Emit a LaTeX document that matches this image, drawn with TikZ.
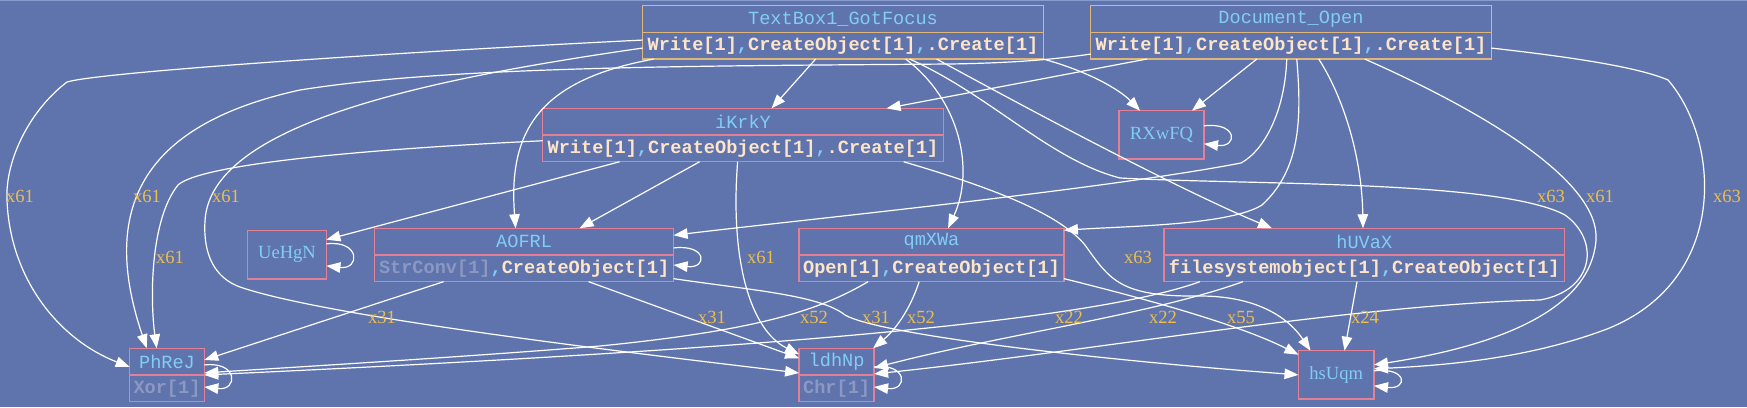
\documentclass[tikz,border=0pt]{standalone}
\usepackage{fontspec}
\setmainfont{Liberation Serif}
\newfontfamily\codefont{Liberation Mono}
\usetikzlibrary{arrows.meta,calc,positioning}

\definecolor{bgblue}{RGB}{95,116,173}
\definecolor{edgetop}{RGB}{135,155,205}
\definecolor{namecol}{RGB}{130,205,245}
\definecolor{callcol}{RGB}{255,228,200}
\definecolor{dimcol}{RGB}{140,152,195}
\definecolor{countcol}{RGB}{238,190,75}
\definecolor{entryline}{RGB}{224,182,120}
\definecolor{funcline}{RGB}{228,128,150}

\newcommand{\csep}{\textcolor{namecol}{,}}

\tikzset{
  func/.style={draw=funcline, line width=1.3pt, inner sep=0pt, outer sep=0pt,
    text=namecol, font=\fontsize{18.6}{22}\selectfont, minimum height=48.3pt},
  fname/.style={func, font=\codefont\fontsize{18.6}{22}\selectfont, minimum height=26.7pt},
  fcalls/.style={fname, font=\codefont\bfseries\fontsize{18.6}{22}\selectfont, text=callcol},
  entry/.style={fname, draw=entryline},
  entrycalls/.style={fcalls, draw=entryline},
  call/.style={draw=white, line width=1.2pt, -{Triangle[length=14pt,width=10.5pt]}},
  count/.style={text=countcol, font=\fontsize{18.6}{22}\selectfont, inner sep=0pt},
}

\begin{document}
\begin{tikzpicture}[x=1pt,y=-1pt]
\useasboundingbox (0,0) rectangle (1747,407);
\fill[bgblue] (0,0) rectangle (1747,407);
\draw[edgetop, line width=1pt] (0,0.5) -- (1747,0.5);

\node[entry, minimum width=400.7pt] (tbt) at (843,19) {TextBox1\_GotFocus};
\node[entrycalls, minimum width=400.7pt, below=0pt of tbt] (tbb) {Write[1]\csep CreateObject[1]\csep.Create[1]};

\node[entry, minimum width=400.5pt] (dot) at (1291,19) {Document\_Open};
\node[entrycalls, minimum width=400.5pt, below=0pt of dot] (dob) {Write[1]\csep CreateObject[1]\csep.Create[1]};

\node[fname, minimum width=400.8pt] (ikt) at (743,121.7) {iKrkY};
\node[fcalls, minimum width=400.8pt, below=0pt of ikt] (ikb) {Write[1]\csep CreateObject[1]\csep.Create[1]};

\node[func, minimum width=85pt] (rx) at (1161.5,134.85) {RXwFQ};
\node[func, minimum width=78.8pt] (ue) at (287,254.85) {UeHgN};

\node[fname, minimum width=299pt] (aot) at (524.1,241.6) {AOFRL};
\node[fcalls, minimum width=299pt, below=0pt of aot] (aob) {\textcolor{dimcol}{StrConv[1]}\csep CreateObject[1]};

\node[fname, minimum width=264.8pt] (qmt) at (931.5,241.6) {qmXWa};
\node[fcalls, minimum width=264.8pt, below=0pt of qmt] (qmb) {Open[1]\csep CreateObject[1]};

\node[fname, minimum width=400.6pt] (hut) at (1364.3,241.6) {hUVaX};
\node[fcalls, minimum width=400.6pt, below=0pt of hut] (hub) {filesystemobject[1]\csep CreateObject[1]};

\node[fname, minimum width=74.6pt] (pht) at (167,361.6) {PhReJ};
\node[fcalls, text=dimcol, minimum width=74.6pt, below=0pt of pht] (phb) {Xor[1]};

\node[fname, minimum width=75pt] (ldt) at (836.6,361.6) {ldhNp};
\node[fcalls, text=dimcol, minimum width=75pt, below=0pt of ldt] (ldb) {Chr[1]};

\node[func, minimum width=75.5pt] (hs) at (1336.25,374.85) {hsUqm};

\draw[call] ($(tbb.south west)+(173,0)$) -- ($(ikt.north west)+(229,0)$);
\draw[call] (tbb.south east) .. controls (1090,72) and (1120,90) .. ($(rx.north west)+(21,0)$);
\draw[call] ($(tbb.south west)+(11,0)$) .. controls (540,80) and (508,130) .. ($(aot.north west)+(141,0)$);
\draw[call] ($(tbb.south west)+(263,0)$) .. controls (960,100) and (975,170) .. ($(qmt.north west)+(149,0)$);
\draw[call] ($(tbb.south west)+(294,0)$) .. controls (1030,110) and (1180,190) .. ($(hut.north west)+(108,0)$);
\draw[call] ($(tbb.south west)+(0,-19)$) .. controls (400,52) and (100,72) .. (67,82)
  .. controls (30,110) and (5,160) .. (7,200) .. controls (10,280) and (60,340) .. ($(pht.south west)+(0,-8)$);
\draw[call] ($(tbb.south west)+(0,-11)$) .. controls (420,80) and (210,125) .. (205,221)
  .. controls (203,255) and (215,278) .. (240,287) .. controls (330,318) and (650,355) .. ($(ldt.south west)+(0,-2)$);
\draw[call] ($(tbb.south west)+(267,0)$) .. controls (990,95) and (1050,160) .. (1120,178)
  .. controls (1250,185) and (1500,180) .. (1565,215) .. controls (1600,240) and (1595,290) .. (1540,300)
  .. controls (1350,305) and (1100,350) .. ($(ldt.south east)+(0,-1)$);

\draw[call] ($(dob.south west)+(56,0)$) -- ($(ikt.north west)+(344,0)$);
\draw[call] ($(dob.south west)+(166,0)$) -- ($(rx.north west)+(73,0)$);
\draw[call] ($(dob.south west)+(196,0)$) .. controls (1285,110) and (1265,150) .. (1241,163)
  .. controls (1100,190) and (800,220) .. ($(aot.north east)+(0,7)$);
\draw[call] ($(dob.south west)+(206,0)$) .. controls (1302,120) and (1300,170) .. (1262,205)
  .. controls (1230,225) and (1130,226) .. ($(qmt.north east)+(0,2)$);
\draw[call] ($(dob.south west)+(228,0)$) .. controls (1345,100) and (1362,160) .. ($(hut.north west)+(199,0)$);
\draw[call] ($(dob.south west)+(0,-5)$) .. controls (1050,60) and (1010,63) .. (950,64)
  .. controls (700,66) and (450,66) .. (300,90) .. controls (140,125) and (100,210) .. ($(pht.north west)+(17,0)$);
\draw[call] ($(dob.south west)+(274,0)$) .. controls (1480,110) and (1600,180) .. (1596,240)
  .. controls (1590,320) and (1470,350) .. ($(hs.east)+(0,-10)$);
\draw[call] ($(dob.south east)+(0,-11)$) .. controls (1580,58) and (1640,68) .. (1668,80)
  .. controls (1720,140) and (1730,280) .. (1607,329) .. controls (1530,358) and (1450,365) .. ($(hs.east)+(0,-6)$);

\draw[call] ($(ikb.south west)+(77,0)$) -- ($(ue.north east)+(0,9)$);
\draw[call] ($(ikb.south west)+(157,0)$) -- ($(aot.north west)+(205,0)$);
\draw[call] ($(ikb.south west)+(0,-21)$) .. controls (350,150) and (200,165) .. (178,185)
  .. controls (150,220) and (150,300) .. ($(pht.north west)+(27,0)$);
\draw[call] ($(ikb.south west)+(195,0)$) .. controls (730,260) and (750,330) .. ($(ldt.north west)+(0,6)$);
\draw[call] ($(ikb.south west)+(361,0)$) .. controls (1000,190) and (1060,215) .. (1085,245)
  .. controls (1110,280) and (1120,297) .. (1200,296) .. controls (1260,296) and (1290,320) .. ($(hs.north west)+(12,0)$);

\draw[call] ($(aob.south west)+(69,0)$) -- ($(pht.south east)+(0,-15)$);
\draw[call] ($(aob.south west)+(214,0)$) -- ($(ldt.north west)+(0,10)$);
\draw[call] ($(aob.south east)+(0,-3)$) .. controls (750,290) and (820,295) .. (845,315)
  .. controls (880,335) and (1100,360) .. (hs.west);

\draw[call] ($(qmb.south west)+(69,0)$) .. controls (820,310) and (760,330) .. (600,346)
  .. controls (450,358) and (280,368) .. ($(pht.south east)+(0,-2)$);
\draw[call] ($(qmb.south west)+(120,0)$) .. controls (910,310) and (895,330) .. ($(ldt.north east)+(-1,0)$);
\draw[call] ($(qmb.south east)+(0,-3)$) .. controls (1150,300) and (1240,325) .. ($(hs.north west)+(0,4)$);

\draw[call] ($(hub.south west)+(36,0)$) .. controls (1080,325) and (700,352) .. (pht.south east);
\draw[call] ($(hub.south west)+(79,0)$) .. controls (1150,315) and (1000,335) .. ($(ldt.south east)+(0,-7)$);
\draw[call] ($(hub.south west)+(193,0)$) -- ($(hs.north west)+(46,0)$);

\draw[call] ($(rx.east)+(0,-9)$) .. controls +(34,-4) and +(34,4) .. ($(rx.east)+(0,9)$);
\draw[call] ($(ue.east)+(0,-11)$) .. controls +(34,-4) and +(34,4) .. ($(ue.east)+(0,11)$);
\draw[call] ($(aob.north east)+(0,-7)$) .. controls +(34,-4) and +(34,4) .. ($(aob.north east)+(0,10)$);
\draw[call] ($(phb.north east)+(0,-10)$) .. controls +(34,-4) and +(34,4) .. ($(phb.north east)+(0,12)$);
\draw[call] ($(ldb.north east)+(0,-8)$) .. controls +(34,-4) and +(34,4) .. ($(ldb.north east)+(0,12)$);
\draw[call] ($(hs.east)+(0,-4)$) .. controls +(34,-4) and +(34,4) .. ($(hs.east)+(0,11)$);

\node[count] (c1) at (20,196) {x61};
\node[count] (c2) at (147,196) {x61};
\node[count] (c3) at (226,196) {x61};
\node[count] (c4) at (170,257) {x61};
\node[count] (c5) at (761,257) {x61};
\node[count] (c6) at (1138,257) {x63};
\node[count] (c7) at (1551,196) {x63};
\node[count] (c8) at (1600,196) {x61};
\node[count] (c9) at (1727,196) {x63};
\node[count] (c10) at (382,317) {x31};
\node[count] (c11) at (712,317) {x31};
\node[count] (c12) at (814,317) {x52};
\node[count] (c13) at (876,317) {x31};
\node[count] (c14) at (921,317) {x52};
\node[count] (c15) at (1069,317) {x22};
\node[count] (c16) at (1163,317) {x22};
\node[count] (c17) at (1241,317) {x55};
\node[count] (c18) at (1365,317) {x24};
\end{tikzpicture}
\end{document}
